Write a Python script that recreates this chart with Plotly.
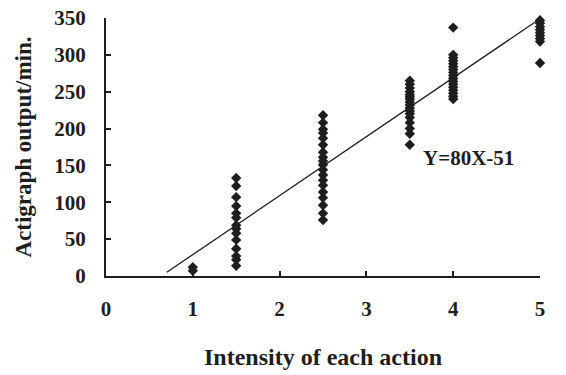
import plotly.graph_objects as go

# Data
x_1 = [1, 1]
y_1 = [12, 7]
x_15 = [1.5] * 14
y_15 = [133, 122, 107, 95, 85, 79, 69, 64, 58, 49, 37, 27, 22, 14]
x_25 = [2.5] * 19
y_25 = [218, 208, 199, 194, 187, 178, 168, 161, 156, 151, 144, 137, 130, 123, 114, 106, 96, 85, 76]
x_35 = [3.5] * 17
y_35 = [265, 260, 255, 250, 246, 243, 240, 236, 232, 228, 224, 220, 215, 208, 200, 193, 178]
x_4 = [4] * 17
y_4 = [337, 300, 296, 292, 288, 284, 280, 276, 272, 268, 264, 260, 256, 252, 248, 244, 240]
x_5 = [5] * 9
y_5 = [347, 343, 338, 334, 330, 326, 322, 318, 289]

slope = 80
intercept = -51
line_x = [0.7, 5]
line_y = [slope * v + intercept for v in line_x]

xs = x_1 + x_15 + x_25 + x_35 + x_4 + x_5
ys = y_1 + y_15 + y_25 + y_35 + y_4 + y_5

font_fam = "Liberation Serif, Times New Roman, serif"
ink = "#1e1e1e"

fig = go.Figure()
fig.add_trace(go.Scatter(x=line_x, y=line_y, mode="lines",
                         line=dict(color=ink, width=1.3),
                         showlegend=False, cliponaxis=False))
fig.add_trace(go.Scatter(x=xs, y=ys, mode="markers",
                         marker=dict(symbol="diamond", size=8, color=ink),
                         showlegend=False, cliponaxis=False))

fig.add_annotation(x=4.18, y=160, text="<b>Y=80X-51</b>", showarrow=False,
                   font=dict(family=font_fam, size=21, color=ink),
                   xanchor="center", yanchor="middle")

fig.update_layout(
    width=566, height=375,
    margin=dict(l=106, r=26, t=18, b=99),
    paper_bgcolor="white", plot_bgcolor="white",
    font=dict(family=font_fam, color=ink),
)
fig.update_xaxes(
    range=[0, 5], tickvals=[0, 1, 2, 3, 4, 5], automargin=False,
    showgrid=False, zeroline=False,
    showline=True, linecolor=ink, linewidth=2,
    ticks="inside", ticklen=5, tickwidth=2, tickcolor=ink,
    tickfont=dict(family=font_fam, size=21, color=ink, weight="bold"),
    ticklabelstandoff=13,
    title=dict(text="<b>Intensity of each action</b>",
               font=dict(family=font_fam, size=24, color=ink), standoff=28),
)
fig.update_yaxes(
    range=[0, 350], tickvals=[0, 50, 100, 150, 200, 250, 300, 350], automargin=False,
    showgrid=False, zeroline=False,
    showline=True, linecolor=ink, linewidth=2,
    ticks="inside", ticklen=5, tickwidth=2, tickcolor=ink,
    tickfont=dict(family=font_fam, size=21, color=ink, weight="bold"),
    ticklabelstandoff=14,
    title=dict(text="<b>Actigraph output/min.</b>",
               font=dict(family=font_fam, size=23, color=ink), standoff=16),
)

fig.write_html("out.html")
